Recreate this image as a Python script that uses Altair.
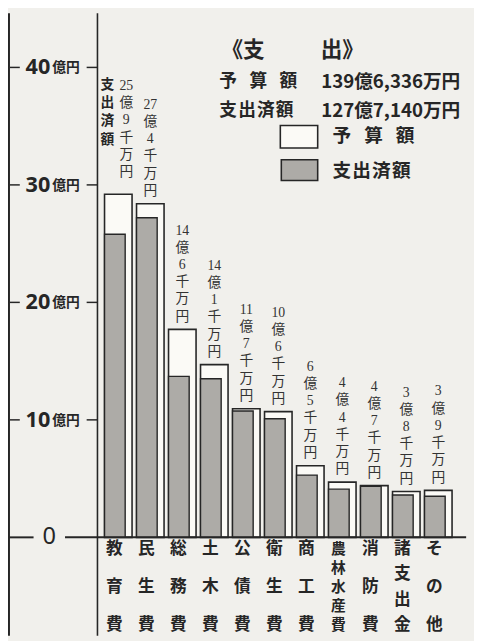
import altair as alt
import pandas as pd

# ---------------- data ----------------
categories = ["教育費", "民生費", "総務費", "土木費", "公債費", "衛生費",
              "商工費", "農林水産費", "消防費", "諸支出金", "その他"]
budget = [29.2, 28.4, 17.7, 14.7, 10.95, 10.7, 6.1, 4.7, 4.4, 3.9, 4.0]
spent = [25.8, 27.2, 13.7, 13.5, 10.75, 10.1, 5.3, 4.1, 4.35, 3.6, 3.5]
label_oku = ["25", "27", "14", "14", "11", "10", "6", "4", "4", "3", "3"]
label_sen = ["9", "4", "6", "1", "7", "6", "5", "4", "7", "8", "9"]
y_ticks = [10, 20, 30, 40]
title_left = "《支"
title_right = "出》"
total_names = ["予\u2002\u2009算\u2002\u2009額", "支\u200a出\u200a済\u200a額"]
total_values = ["139億6,336万円", "127億7,140万円"]
legend_names = ["予\u2002\u2009算\u2002\u2009額", "支\u200a出\u200a済\u200a額"]
spent_caption = ["支", "出", "済", "額"]

# ---------------- tables ----------------
W, H = 474, 633
LH = 17.5
df = pd.DataFrame({
    "cat": categories,
    "idx": list(range(len(categories))),
    "budget": budget,
    "spent": spent,
    "labstr": [f"{o}|億|{s}|千|万|円" for o, s in zip(label_oku, label_sen)],
})
df["lx"] = df["idx"] + [0.25 if i == 0 else 0.0 for i in df["idx"]]
df["ly"] = df["budget"] + [0.8 if i == 0 else 0.0 for i in df["idx"]]

rows = []
for i, c in enumerate(categories):
    n = len(c)
    for k, ch in enumerate(c):
        rows.append({"idx": i, "ch": ch, "cy": -1.0 - 6.45 * k / (n - 1),
                     "fs": 15 if n >= 5 else 17})
cat_df = pd.DataFrame(rows)
tick_df = pd.DataFrame({"v": y_ticks})
zero_df = pd.DataFrame({"v": [0]})
one = pd.DataFrame({"a": [0]})

xscale = alt.Scale(domain=[-3.2932, 10.9624], nice=False, zero=False)
yscale = alt.Scale(domain=[-8.368, 44.603], nice=False, zero=False)
X = alt.X("idx:Q", scale=xscale, axis=None)
INK = "#262626"

base = alt.Chart(df)

outer = base.mark_bar(width=28, fill="#fbfaf6", stroke=INK, strokeWidth=1.6).encode(
    x=X, y=alt.Y("budget:Q", scale=yscale, axis=None), y2=alt.datum(0))
inner = base.mark_bar(width=21, xOffset=-3.5, fill="#adaba7", stroke=INK, strokeWidth=1.4).encode(
    x=X, y=alt.Y("spent:Q", scale=yscale, axis=None), y2=alt.datum(0))

vlabels = base.transform_calculate(lab="split(datum.labstr, '|')").mark_text(
    font="Liberation Serif, Noto Sans CJK JP", fontSize=14, lineHeight=LH,
    baseline="bottom", align="center", dy=-6 - 5 * LH, color="#333333").encode(
    x=alt.X("lx:Q", scale=xscale, axis=None),
    y=alt.Y("ly:Q", scale=yscale, axis=None),
    text="lab:N")

caption = alt.Chart(one).mark_text(
    font="Noto Sans CJK JP", fontWeight="bold", fontSize=14, lineHeight=18.5,
    baseline="top", align="center", color=INK).encode(
    x=alt.value(101), y=alt.value(66), text=alt.value(spent_caption))

catlabels = alt.Chart(cat_df).mark_text(
    font="Noto Sans CJK JP", fontWeight="bold", color=INK, dx=-4,
    baseline="middle").encode(
    x=alt.X("idx:Q", scale=xscale, axis=None),
    y=alt.Y("cy:Q", scale=yscale, axis=None),
    size=alt.Size("fs:Q", scale=None, legend=None),
    text="ch:N")

# axis decoration
tick_num = alt.Chart(tick_df).mark_text(
    font="Noto Sans", fontWeight="bold", fontSize=22, align="right",
    baseline="middle", color=INK).encode(
    x=alt.value(43), y=alt.Y("v:Q", scale=yscale, axis=None), text="v:N")
tick_unit = alt.Chart(tick_df).mark_text(
    font="Noto Sans CJK JP", fontWeight="bold", fontSize=14, align="left",
    baseline="middle", color=INK, dy=1).encode(
    x=alt.value(45), y=alt.Y("v:Q", scale=yscale, axis=None), text=alt.value("億円"))
dash_l = alt.Chart(tick_df).mark_rule(color=INK, strokeWidth=1.5).encode(
    y=alt.Y("v:Q", scale=yscale, axis=None), x=alt.value(2), x2=alt.value(12))
dash_r = alt.Chart(tick_df).mark_rule(color=INK, strokeWidth=1.5).encode(
    y=alt.Y("v:Q", scale=yscale, axis=None), x=alt.value(80), x2=alt.value(91))
zero_txt = alt.Chart(zero_df).mark_text(
    font="Noto Sans", fontSize=24, align="center", baseline="middle", color=INK).encode(
    x=alt.value(42), y=alt.Y("v:Q", scale=yscale, axis=None), text="v:N")
zero_l = alt.Chart(zero_df).mark_rule(color=INK, strokeWidth=2).encode(
    y=alt.Y("v:Q", scale=yscale, axis=None), x=alt.value(0), x2=alt.value(26))
zero_r = alt.Chart(zero_df).mark_rule(color=INK, strokeWidth=2).encode(
    y=alt.Y("v:Q", scale=yscale, axis=None), x=alt.value(58), x2=alt.value(466))
vline = alt.Chart(one).mark_rule(color=INK, strokeWidth=1.6).encode(
    x=alt.value(91), y=alt.value(0), y2=alt.value(H))
lborder = alt.Chart(one).mark_rule(color=INK, strokeWidth=2).encode(
    x=alt.value(1), y=alt.value(0), y2=alt.value(H))

# title block
def txt(s, x, y, align, size, weight="bold", font="Noto Sans CJK JP"):
    return alt.Chart(one).mark_text(font=font, fontWeight=weight, fontSize=size,
                                    align=align, baseline="middle", color=INK).encode(
        x=alt.value(x), y=alt.value(y), text=alt.value(s))

title_layers = [
    txt(title_left, 261, 37, "right", 22),
    txt(title_right, 318, 37, "left", 22),
    txt(total_names[0], 215, 70, "left", 18),
    txt(total_values[0], 460, 70, "right", 19),
    txt(total_names[1], 215, 99, "left", 18),
    txt(total_values[1], 460, 99, "right", 19),
    txt(legend_names[0], 330, 125, "left", 19),
    txt(legend_names[1], 330, 160, "left", 19),
]
leg_white = alt.Chart(one).mark_rect(fill="#fbfaf6", stroke=INK, strokeWidth=1.6).encode(
    x=alt.value(277), x2=alt.value(315), y=alt.value(114), y2=alt.value(137))
leg_gray = alt.Chart(one).mark_rect(fill="#adaba7", stroke=INK, strokeWidth=1.6).encode(
    x=alt.value(278), x2=alt.value(315), y=alt.value(149), y2=alt.value(170))

chart = alt.layer(
    outer, inner, vlabels, caption, catlabels,
    tick_num, tick_unit, dash_l, dash_r, zero_txt, zero_l, zero_r,
    vline, lborder, leg_white, leg_gray, *title_layers
).properties(
    width=W, height=H, padding=0,
    autosize=alt.AutoSizeParams(type="none"),
).configure(background="#f1f0ec").configure_view(stroke=None)

chart.save("out.html", embed_options={"renderer": "svg", "actions": False})
